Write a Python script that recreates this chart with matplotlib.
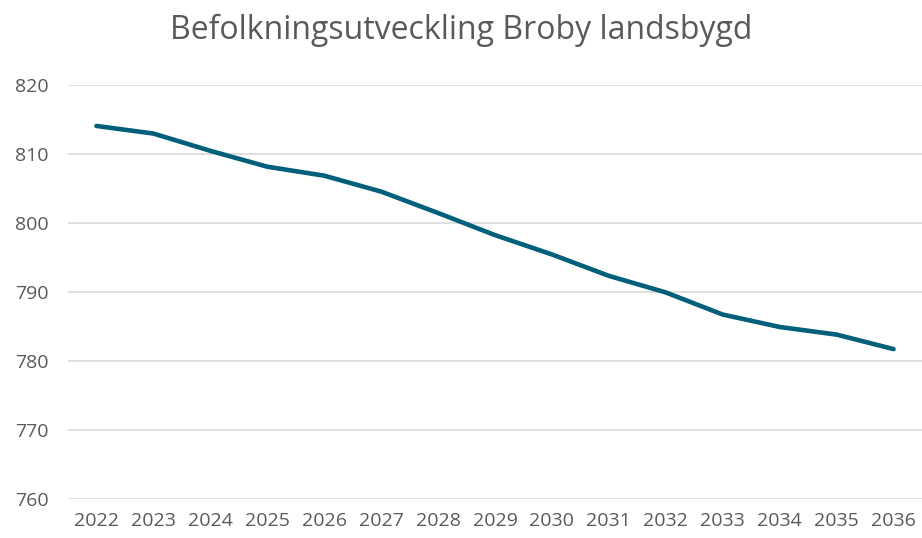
import matplotlib.pyplot as plt

years = ['2022', '2023', '2024', '2025', '2026', '2027', '2028', '2029',
         '2030', '2031', '2032', '2033', '2034', '2035', '2036']
population = [814.0, 812.9, 810.4, 808.1, 806.8, 804.5, 801.4, 798.2,
              795.4, 792.3, 789.9, 786.7, 784.9, 783.8, 781.7]
yticks = [760, 770, 780, 790, 800, 810, 820]

plt.rcParams['font.family'] = ['Open Sans', 'DejaVu Sans']

fig = plt.figure(figsize=(9.22, 5.38), dpi=100)
ax = fig.add_axes([68 / 922, 1 - 499 / 538, (922 - 68) / 922, (499 - 84.5) / 538])

x = range(len(years))
ax.plot(x, population, color='#005F7A', linewidth=3.3, solid_capstyle='round',
        solid_joinstyle='round', zorder=3)

ax.set_xlim(-0.5, len(years) - 0.5)
ax.set_ylim(760, 820)
ax.set_xticks(list(x))
ax.set_xticklabels(years)
ax.set_yticks(yticks)
ax.grid(axis='y', color='#D9D9D9', linewidth=1.2)
ax.set_axisbelow(True)
for s in ax.spines.values():
    s.set_visible(False)
ax.tick_params(length=0, labelsize=14, colors='#595959')
ax.tick_params(axis='y', pad=14)
ax.tick_params(axis='x', pad=9)

fig.text(0.5, 1 - 30 / 538, 'Befolkningsutveckling Broby landsbygd', ha='center',
         va='center', fontsize=23, color='#595959')

fig.savefig('out.png', dpi=100)
